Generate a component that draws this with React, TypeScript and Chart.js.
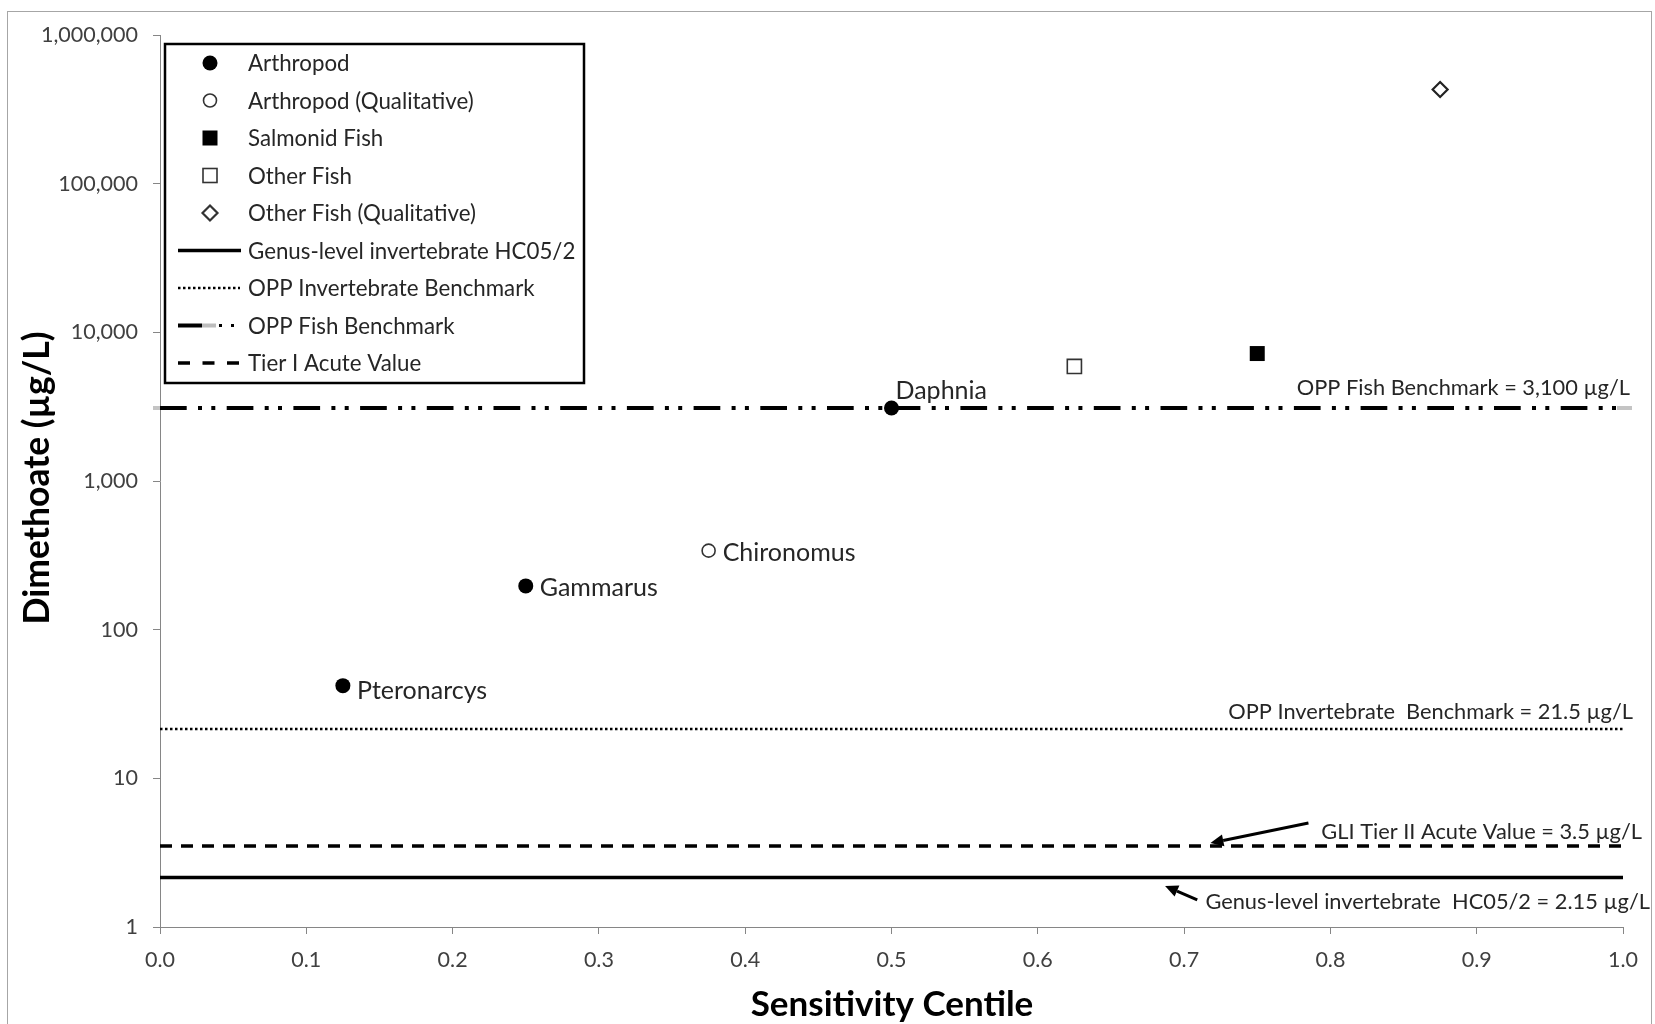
import React, { useEffect, useRef } from "react";
import { Chart, registerables } from "chart.js";

Chart.register(...registerables);

// Species sensitivity points (x = sensitivity centile, y = dimethoate µg/L)
const arthropodCentiles = [0.125, 0.25, 0.5];
const arthropodValues = [42, 197, 3100];
const arthropodNames = ["Pteronarcys", "Gammarus", "Daphnia"];

const arthropodQualCentiles = [0.375];
const arthropodQualValues = [340];
const arthropodQualNames = ["Chironomus"];

const salmonidCentiles = [0.75];
const salmonidValues = [7200];

const otherFishCentiles = [0.625];
const otherFishValues = [5900];

const otherFishQualCentiles = [0.875];
const otherFishQualValues = [430000];

// Benchmark / criterion values (µg/L)
const hc05Half = 2.15;
const oppInvertebrateBenchmark = 21.5;
const oppFishBenchmark = 3100;
const tierIAcuteValue = 3.5;
const benchmarkSpan = [0, 1];

// Axis ticks
const xTickValues = [0, 0.1, 0.2, 0.3, 0.4, 0.5, 0.6, 0.7, 0.8, 0.9, 1.0];
const yTickValues = [1, 10, 100, 1000, 10000, 100000, 1000000];

const FONT = "Lato, 'Open Sans', sans-serif";
const TEXT = "#262626";
const AXIS = "#868686";

const pts = (xs: number[], ys: number[]) => xs.map((x, i) => ({ x, y: ys[i] }));
const hline = (v: number) => benchmarkSpan.map((x) => ({ x, y: v }));

type LegendKind =
  | "dot"
  | "ring"
  | "square"
  | "openSquare"
  | "diamond"
  | "solid"
  | "dotted"
  | "fish"
  | "dashed";

function drawMarker(ctx: CanvasRenderingContext2D, kind: LegendKind, x: number, y: number) {
  ctx.save();
  ctx.lineWidth = 1.6;
  ctx.strokeStyle = "#333";
  ctx.fillStyle = "#fff";
  if (kind === "dot") {
    ctx.fillStyle = "#000";
    ctx.beginPath();
    ctx.arc(x, y, 7.5, 0, Math.PI * 2);
    ctx.fill();
  } else if (kind === "ring") {
    ctx.beginPath();
    ctx.arc(x, y, 6.5, 0, Math.PI * 2);
    ctx.fill();
    ctx.stroke();
  } else if (kind === "square") {
    ctx.fillStyle = "#000";
    ctx.fillRect(x - 7.5, y - 7.5, 15, 15);
  } else if (kind === "openSquare") {
    ctx.fillRect(x - 7, y - 7, 14, 14);
    ctx.strokeRect(x - 7, y - 7, 14, 14);
  } else if (kind === "diamond") {
    ctx.lineWidth = 2.2;
    ctx.beginPath();
    ctx.moveTo(x, y - 7.5);
    ctx.lineTo(x + 7.5, y);
    ctx.lineTo(x, y + 7.5);
    ctx.lineTo(x - 7.5, y);
    ctx.closePath();
    ctx.fill();
    ctx.stroke();
  }
  ctx.restore();
}

const legendItems: { label: string; kind: LegendKind }[] = [
  { label: "Arthropod", kind: "dot" },
  { label: "Arthropod (Qualitative)", kind: "ring" },
  { label: "Salmonid Fish", kind: "square" },
  { label: "Other Fish", kind: "openSquare" },
  { label: "Other Fish (Qualitative)", kind: "diamond" },
  { label: "Genus-level invertebrate HC05/2", kind: "solid" },
  { label: "OPP Invertebrate Benchmark", kind: "dotted" },
  { label: "OPP Fish Benchmark", kind: "fish" },
  { label: "Tier I Acute Value", kind: "dashed" },
];

// Text callouts next to the benchmark lines
const lineCallouts = [
  { text: "OPP Fish Benchmark = 3,100 µg/L", value: oppFishBenchmark, right: 1630, dy: -20 },
  { text: "OPP Invertebrate  Benchmark = 21.5 µg/L", value: oppInvertebrateBenchmark, right: 1633, dy: -17 },
  { text: "GLI Tier II Acute Value = 3.5 µg/L", value: tierIAcuteValue, right: 1642, dy: -14 },
  { text: "Genus-level invertebrate  HC05/2 = 2.15 µg/L", value: hc05Half, right: 1650, dy: 24 },
];

// Arrows pointing at the criterion lines (data coordinates)
const calloutArrows = [
  { from: { x: 0.785, y: 5.0 }, to: { x: 0.718, y: 3.67 } },
  { from: { x: 0.709, y: 1.52 }, to: { x: 0.687, y: 1.89 } },
];

const decorPlugin = {
  id: "decor",
  beforeDraw(chart: any) {
    const { ctx, width, height } = chart;
    ctx.save();
    ctx.fillStyle = "#fff";
    ctx.fillRect(0, 0, width, height);
    ctx.strokeStyle = "#a6a6a6";
    ctx.lineWidth = 1;
    ctx.strokeRect(7.5, 11.5, 1644, 1100);
    ctx.restore();
  },
  afterDatasetsDraw(chart: any) {
    // light grey end caps of the fish benchmark line, just past the plot edges
    const { ctx, chartArea } = chart;
    const y = chart.scales.y.getPixelForValue(oppFishBenchmark);
    ctx.save();
    ctx.strokeStyle = "#c4c4c4";
    ctx.lineWidth = 4;
    ctx.beginPath();
    ctx.moveTo(chartArea.left - 7, y);
    ctx.lineTo(chartArea.left, y);
    ctx.moveTo(chartArea.right - 6, y);
    ctx.lineTo(chartArea.right + 9, y);
    ctx.stroke();
    ctx.restore();
  },
  afterDraw(chart: any) {
    const { ctx } = chart;
    const xs = chart.scales.x;
    const ys = chart.scales.y;

    // point names
    ctx.save();
    ctx.fillStyle = TEXT;
    ctx.font = `25px ${FONT}`;
    ctx.textBaseline = "middle";
    ctx.textAlign = "left";
    chart.data.datasets.forEach((ds: any, di: number) => {
      if (!ds.pointNames) return;
      const meta = chart.getDatasetMeta(di);
      meta.data.forEach((el: any, i: number) => {
        const name = ds.pointNames[i];
        if (!name) return;
        const above = name === "Daphnia";
        const dx = above ? 4 : 14;
        const dy = above ? -17 : name === "Pteronarcys" ? 5 : 2;
        ctx.fillText(name, el.x + dx, el.y + dy);
      });
    });
    ctx.restore();

    // benchmark callouts
    ctx.save();
    ctx.fillStyle = TEXT;
    ctx.font = `21.8px ${FONT}`;
    ctx.textBaseline = "middle";
    ctx.textAlign = "right";
    lineCallouts.forEach((c) => {
      ctx.fillText(c.text, c.right, ys.getPixelForValue(c.value) + c.dy);
    });
    ctx.restore();

    // arrows
    ctx.save();
    ctx.strokeStyle = "#000";
    ctx.fillStyle = "#000";
    ctx.lineWidth = 3;
    calloutArrows.forEach((a) => {
      const x1 = xs.getPixelForValue(a.from.x);
      const y1 = ys.getPixelForValue(a.from.y);
      const x2 = xs.getPixelForValue(a.to.x);
      const y2 = ys.getPixelForValue(a.to.y);
      const ang = Math.atan2(y2 - y1, x2 - x1);
      const head = 13;
      const bx = x2 - head * Math.cos(ang);
      const by = y2 - head * Math.sin(ang);
      ctx.beginPath();
      ctx.moveTo(x1, y1);
      ctx.lineTo(bx, by);
      ctx.stroke();
      ctx.beginPath();
      ctx.moveTo(x2, y2);
      ctx.lineTo(bx + 6 * Math.sin(ang), by - 6 * Math.cos(ang));
      ctx.lineTo(bx - 6 * Math.sin(ang), by + 6 * Math.cos(ang));
      ctx.closePath();
      ctx.fill();
    });
    ctx.restore();

    // axis titles
    ctx.save();
    ctx.fillStyle = "#000";
    ctx.textAlign = "center";
    ctx.textBaseline = "middle";
    ctx.font = `bold 35px ${FONT}`;
    ctx.fillText("Sensitivity Centile", 892, 1005);
    ctx.font = `bold 35.5px ${FONT}`;
    ctx.translate(38, 478);
    ctx.rotate(-Math.PI / 2);
    ctx.fillText("Dimethoate (µg/L)", 0, 0);
    ctx.restore();

    // legend
    const L = 165, T = 44, R = 584, B = 383;
    ctx.save();
    ctx.fillStyle = "#fff";
    ctx.fillRect(L, T, R - L, B - T);
    ctx.strokeStyle = "#000";
    ctx.lineWidth = 2.5;
    ctx.strokeRect(L, T, R - L, B - T);
    ctx.font = `22.3px ${FONT}`;
    ctx.textBaseline = "middle";
    ctx.textAlign = "left";
    legendItems.forEach((it, i) => {
      const cy = 63 + i * 37.5;
      const mx = 210;
      if (["dot", "ring", "square", "openSquare", "diamond"].includes(it.kind)) {
        drawMarker(ctx, it.kind, mx, cy);
      } else {
        ctx.save();
        ctx.strokeStyle = "#000";
        if (it.kind === "solid") {
          ctx.lineWidth = 3.5;
          ctx.beginPath();
          ctx.moveTo(178, cy);
          ctx.lineTo(241, cy);
          ctx.stroke();
        } else if (it.kind === "dotted") {
          ctx.lineWidth = 2.5;
          ctx.setLineDash([2.5, 2.5]);
          ctx.beginPath();
          ctx.moveTo(178, cy);
          ctx.lineTo(240, cy);
          ctx.stroke();
        } else if (it.kind === "fish") {
          ctx.lineWidth = 4;
          ctx.beginPath();
          ctx.moveTo(178, cy);
          ctx.lineTo(202, cy);
          ctx.stroke();
          ctx.strokeStyle = "#bdbdbd";
          ctx.beginPath();
          ctx.moveTo(202, cy);
          ctx.lineTo(216, cy);
          ctx.stroke();
          ctx.fillStyle = "#000";
          ctx.fillRect(219, cy - 1.5, 3, 3);
          ctx.fillRect(231, cy - 1.5, 3, 3);
        } else if (it.kind === "dashed") {
          ctx.lineWidth = 3.5;
          ctx.setLineDash([12, 12.5]);
          ctx.beginPath();
          ctx.moveTo(178, cy);
          ctx.lineTo(241, cy);
          ctx.stroke();
        }
        ctx.restore();
      }
      ctx.fillStyle = TEXT;
      ctx.fillText(it.label, 248, cy + 1);
    });
    ctx.restore();
  },
};

export default function App() {
  const ref = useRef<HTMLCanvasElement | null>(null);

  useEffect(() => {
    document.body.style.margin = "0";
    const canvas = ref.current;
    if (!canvas) return;

    const lineBase = {
      type: "line" as const,
      pointRadius: 0,
      borderColor: "#000",
      fill: false,
      order: 2,
    };

    const chart = new Chart(canvas, {
      type: "scatter",
      data: {
        datasets: [
          {
            label: "Arthropod",
            data: pts(arthropodCentiles, arthropodValues),
            pointNames: arthropodNames,
            pointStyle: "circle",
            pointRadius: 7.5,
            backgroundColor: "#000",
            borderColor: "#000",
            borderWidth: 0,
            order: 0,
          } as any,
          {
            label: "Arthropod (Qualitative)",
            data: pts(arthropodQualCentiles, arthropodQualValues),
            pointNames: arthropodQualNames,
            pointStyle: "circle",
            pointRadius: 6.5,
            backgroundColor: "#fff",
            borderColor: "#333",
            borderWidth: 1.6,
            order: 0,
          } as any,
          {
            label: "Salmonid Fish",
            data: pts(salmonidCentiles, salmonidValues),
            pointStyle: "rect",
            pointRadius: 10.6,
            backgroundColor: "#000",
            borderColor: "#000",
            borderWidth: 0,
            order: 0,
          },
          {
            label: "Other Fish",
            data: pts(otherFishCentiles, otherFishValues),
            pointStyle: "rect",
            pointRadius: 10,
            backgroundColor: "#fff",
            borderColor: "#333",
            borderWidth: 1.6,
            order: 0,
          },
          {
            label: "Other Fish (Qualitative)",
            data: pts(otherFishQualCentiles, otherFishQualValues),
            pointStyle: "rectRot",
            pointRadius: 7.5,
            backgroundColor: "#fff",
            borderColor: "#222",
            borderWidth: 2.2,
            order: 0,
          },
          {
            ...lineBase,
            label: "Genus-level invertebrate HC05/2",
            data: hline(hc05Half),
            borderWidth: 3.5,
          },
          {
            ...lineBase,
            label: "OPP Invertebrate Benchmark",
            data: hline(oppInvertebrateBenchmark),
            borderWidth: 2.5,
            borderDash: [2.5, 2.5],
          },
          {
            ...lineBase,
            label: "OPP Fish Benchmark",
            data: hline(oppFishBenchmark),
            borderWidth: 4,
            borderDash: [26.7, 11.3, 4, 9.3, 4, 11.4],
            borderCapStyle: "butt",
          },
          {
            ...lineBase,
            label: "Tier I Acute Value",
            data: hline(tierIAcuteValue),
            borderWidth: 3.5,
            borderDash: [12, 9],
          },
        ] as any,
      },
      options: {
        responsive: false,
        animation: false,
        events: [],
        layout: { padding: { top: 35, right: 32, left: 0, bottom: 0 } },
        plugins: {
          legend: { display: false },
          tooltip: { enabled: false },
          title: { display: false },
        },
        scales: {
          x: {
            type: "linear",
            min: 0,
            max: 1,
            afterBuildTicks: (s: any) => {
              s.ticks = xTickValues.map((value) => ({ value }));
            },
            afterFit: (s: any) => {
              s.height = 97;
            },
            ticks: {
              callback: (v: any) => Number(v).toFixed(1),
              font: { family: FONT, size: 21.5 },
              color: "#404040",
              padding: 13,
              maxRotation: 0,
              autoSkip: false,
            },
            grid: {
              display: true,
              drawOnChartArea: false,
              drawTicks: true,
              tickLength: 7,
              color: AXIS,
            },
            border: { color: AXIS, width: 1 },
          },
          y: {
            type: "logarithmic",
            min: 1,
            max: 1000000,
            afterBuildTicks: (s: any) => {
              s.ticks = yTickValues.map((value) => ({ value }));
            },
            afterFit: (s: any) => {
              s.width = 160;
            },
            ticks: {
              callback: (v: any) => Number(v).toLocaleString("en-US"),
              font: { family: FONT, size: 21.5 },
              color: "#404040",
              padding: 15,
              autoSkip: false,
            },
            grid: {
              display: true,
              drawOnChartArea: false,
              drawTicks: true,
              tickLength: 7,
              color: AXIS,
            },
            border: { color: AXIS, width: 1 },
          },
        },
      },
      plugins: [decorPlugin],
    });

    return () => chart.destroy();
  }, []);

  return (
    <div style={{ width: 1655, height: 1024, position: "relative" }}>
      <canvas ref={ref} width={1655} height={1024} style={{ display: "block" }} />
    </div>
  );
}
